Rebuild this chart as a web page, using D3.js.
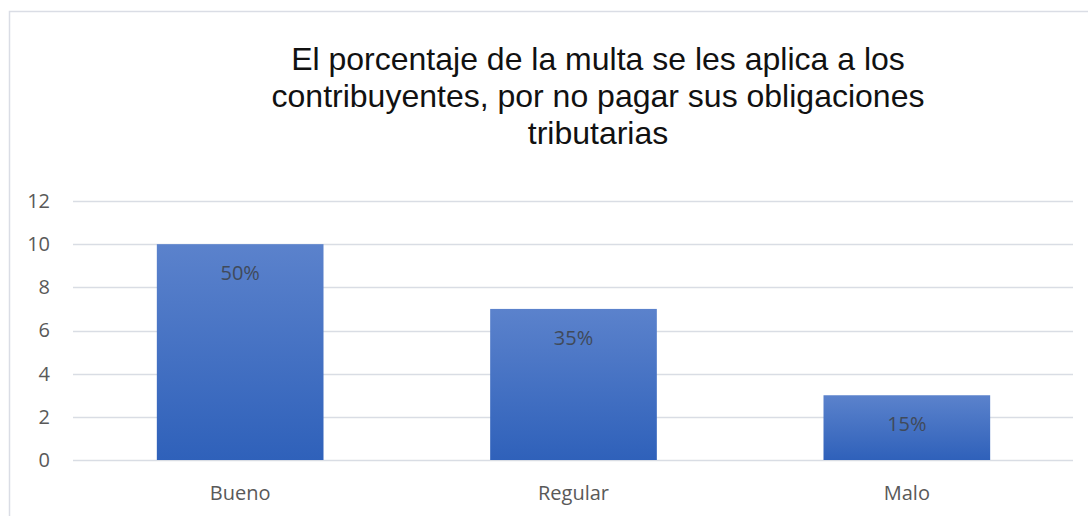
<!DOCTYPE html>
<html>
<head>
<meta charset="utf-8">
<script src="https://cdn.jsdelivr.net/npm/d3@7"></script>
<style>
	html, body { margin: 0; padding: 0; background: #fff; }
	svg { display: block; }
</style>
</head>
<body>
<svg id="chart" width="1088" height="516"></svg>
<script>
var categories = ["Bueno", "Regular", "Malo"];
var values = [10, 7, 3];
var pctLabels = ["50%", "35%", "15%"];
var yTicks = [0, 2, 4, 6, 8, 10, 12];
var titleLines = [
	"El porcentaje de la multa se les aplica a los",
	"contribuyentes, por no pagar sus obligaciones",
	"tributarias"
];

var svg = d3.select("#chart");
var axisColor = "#595959";
var gridColor = "#d9dde4";
var labelFont = "'Open Sans', Lato, sans-serif";

// outer frame (only top/left visible in the picture)
svg.append("rect")
	.attr("x", 9.5).attr("y", 11.5)
	.attr("width", 1200).attr("height", 600)
	.attr("fill", "none")
	.attr("stroke", "#dadde5")
	.attr("stroke-width", 1.5);

// gradient for the bars
var grad = svg.append("defs").append("linearGradient")
	.attr("id", "barGrad")
	.attr("x1", 0).attr("y1", 0).attr("x2", 0).attr("y2", 1);
grad.append("stop").attr("offset", "0%").attr("stop-color", "#5b82cc");
grad.append("stop").attr("offset", "100%").attr("stop-color", "#2f61ba");

// scales
var x = d3.scaleBand()
	.domain(categories)
	.range([73.5, 1073.5])
	.paddingInner(0.5)
	.paddingOuter(0.25);
var y = d3.scaleLinear()
	.domain([0, 12])
	.range([460, 201]);

// title
svg.append("text")
	.attr("x", 598)
	.attr("y", 70)
	.attr("text-anchor", "middle")
	.style("font-family", "'Liberation Sans', Arial, sans-serif")
	.style("font-size", "32px")
	.attr("fill", "#111")
	.selectAll("tspan").data(titleLines).enter()
	.append("tspan")
	.attr("x", 598)
	.attr("dy", function(d, i){ return i === 0 ? 0 : 37; })
	.text(function(d){ return d; });

// gridlines
svg.append("g").selectAll("line").data(yTicks).enter()
	.append("line")
	.attr("x1", 73).attr("x2", 1073)
	.attr("y1", function(d){ return Math.round(y(d)) + 0.5; })
	.attr("y2", function(d){ return Math.round(y(d)) + 0.5; })
	.attr("stroke", gridColor)
	.attr("stroke-width", 1.5);

// y axis labels
var yAxis = d3.axisLeft(y).tickValues(yTicks).tickSize(0).tickPadding(0);
var gy = svg.append("g").attr("transform", "translate(50,0)").call(yAxis);
gy.select(".domain").remove();
gy.selectAll("text")
	.style("font-family", labelFont)
	.style("font-size", "20px")
	.attr("fill", axisColor);

// bars
svg.append("g").selectAll("rect").data(values).enter()
	.append("rect")
	.attr("x", function(d, i){ return x(categories[i]); })
	.attr("y", function(d){ return y(d); })
	.attr("width", x.bandwidth())
	.attr("height", function(d){ return y(0) - y(d); })
	.attr("fill", "url(#barGrad)");

// labels inside bars
svg.append("g").selectAll("text").data(values).enter()
	.append("text")
	.attr("x", function(d, i){ return x(categories[i]) + x.bandwidth() / 2; })
	.attr("y", function(d){ return y(d) + 36; })
	.attr("text-anchor", "middle")
	.style("font-family", labelFont)
	.style("font-size", "20px")
	.attr("fill", "#404a5a")
	.text(function(d, i){ return pctLabels[i]; });

// x axis labels
var xAxis = d3.axisBottom(x).tickSize(0).tickPadding(0);
var gx = svg.append("g").attr("transform", "translate(0,500)").call(xAxis);
gx.select(".domain").remove();
gx.selectAll("text")
	.attr("dy", 0)
	.style("font-family", labelFont)
	.style("font-size", "20px")
	.attr("fill", axisColor);
</script>
</body>
</html>
